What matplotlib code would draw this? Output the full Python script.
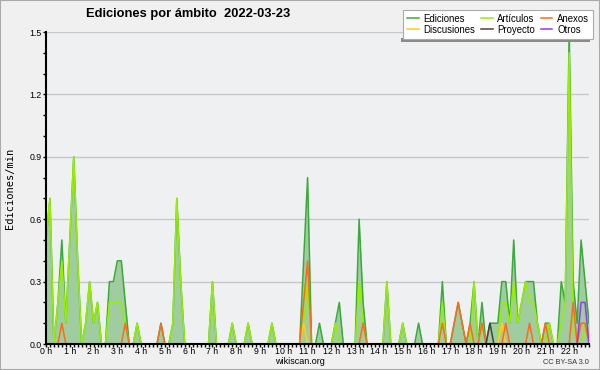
import numpy as np
import matplotlib.pyplot as plt
import matplotlib.lines as mlines
import matplotlib.patches as mpatches

plt.rcParams["font.family"] = ["Liberation Sans", "DejaVu Sans"]

# edits per minute in 10-minute buckets, 00:00 .. 22:50 (two hours per row)
ediciones = [
    0.5, 0.7, 0.0, 0.2, 0.5, 0.1,  0.5, 0.9, 0.4, 0.0, 0.1, 0.3,
    0.1, 0.2, 0.0, 0.0, 0.3, 0.3,  0.4, 0.4, 0.2, 0.0, 0.0, 0.1,
    0.0, 0.0, 0.0, 0.0, 0.0, 0.1,  0.0, 0.0, 0.1, 0.7, 0.3, 0.0,
    0.0, 0.0, 0.0, 0.0, 0.0, 0.0,  0.3, 0.0, 0.0, 0.0, 0.0, 0.1,
    0.0, 0.0, 0.0, 0.1, 0.0, 0.0,  0.0, 0.0, 0.0, 0.1, 0.0, 0.0,
    0.0, 0.0, 0.0, 0.0, 0.0, 0.4,  0.8, 0.0, 0.0, 0.1, 0.0, 0.0,
    0.0, 0.1, 0.2, 0.0, 0.0, 0.0,  0.0, 0.6, 0.2, 0.0, 0.0, 0.0,
    0.0, 0.0, 0.3, 0.0, 0.0, 0.0,  0.1, 0.0, 0.0, 0.0, 0.1, 0.0,
    0.0, 0.0, 0.0, 0.0, 0.3, 0.0,  0.0, 0.1, 0.2, 0.1, 0.0, 0.1,
    0.3, 0.0, 0.2, 0.0, 0.1, 0.1,  0.1, 0.3, 0.3, 0.1, 0.5, 0.1,
    0.2, 0.3, 0.3, 0.3, 0.1, 0.0,  0.1, 0.1, 0.0, 0.0, 0.3, 0.2,
    1.5, 0.3, 0.1, 0.5, 0.3, 0.1,
]
articulos = [
    0.5, 0.7, 0.0, 0.2, 0.4, 0.1,  0.5, 0.9, 0.4, 0.0, 0.1, 0.3,
    0.1, 0.2, 0.0, 0.0, 0.2, 0.2,  0.2, 0.2, 0.1, 0.0, 0.0, 0.1,
    0.0, 0.0, 0.0, 0.0, 0.0, 0.0,  0.0, 0.0, 0.1, 0.7, 0.3, 0.0,
    0.0, 0.0, 0.0, 0.0, 0.0, 0.0,  0.3, 0.0, 0.0, 0.0, 0.0, 0.1,
    0.0, 0.0, 0.0, 0.1, 0.0, 0.0,  0.0, 0.0, 0.0, 0.1, 0.0, 0.0,
    0.0, 0.0, 0.0, 0.0, 0.0, 0.1,  0.3, 0.0, 0.0, 0.0, 0.0, 0.0,
    0.0, 0.1, 0.0, 0.0, 0.0, 0.0,  0.0, 0.3, 0.1, 0.0, 0.0, 0.0,
    0.0, 0.0, 0.3, 0.0, 0.0, 0.0,  0.1, 0.0, 0.0, 0.0, 0.0, 0.0,
    0.0, 0.0, 0.0, 0.0, 0.2, 0.0,  0.0, 0.0, 0.0, 0.0, 0.0, 0.0,
    0.3, 0.0, 0.1, 0.0, 0.0, 0.0,  0.0, 0.2, 0.2, 0.1, 0.3, 0.1,
    0.2, 0.3, 0.2, 0.2, 0.1, 0.0,  0.0, 0.1, 0.0, 0.0, 0.1, 0.2,
    1.4, 0.1, 0.0, 0.0, 0.1, 0.0,
]
# sparse namespaces: bucket start time -> edits per minute
anexos = {
    "00:40": 0.1, "03:20": 0.1, "04:50": 0.1, "10:50": 0.2, "11:00": 0.4,
    "13:20": 0.1, "16:40": 0.1, "17:10": 0.1, "17:20": 0.2, "17:30": 0.1,
    "17:50": 0.1, "18:20": 0.1, "19:20": 0.1, "20:20": 0.1, "21:00": 0.1,
    "22:10": 0.2, "22:30": 0.1, "22:40": 0.1,
}
discusiones = {"10:50": 0.1, "19:10": 0.1}
proyecto = {"18:40": 0.1}
otros = {"22:30": 0.2, "22:40": 0.2}

hour_labels = [f"{h} h" for h in range(23)]

n = len(ediciones)
x = np.arange(n)


def expand(d):
    arr = np.zeros(n)
    for t, v in d.items():
        h, m = t.split(":")
        arr[int(h) * 6 + int(m) // 10] = v
    return arr


fig = plt.figure(figsize=(6, 3.7), dpi=100, facecolor="#f0f0f0")
ax = fig.add_axes([46 / 600, 1 - 344 / 370, (589 - 46) / 600, (344 - 32) / 370])
ax.set_facecolor("#eef0f2")

ax.fill_between(x, ediciones, color="#9fcd9f", lw=0, zorder=2)
ax.plot(x, ediciones, color="#3aaa3a", lw=1.1, zorder=3)
ax.plot(x, articulos, color="#99ee00", lw=1.1, zorder=4)
ax.plot(x, expand(discusiones), color="#ffcc22", lw=1.1, zorder=5)
ax.plot(x, expand(anexos), color="#ff6a1a", lw=1.1, zorder=5)
ax.plot(x, expand(proyecto), color="#444444", lw=1.1, zorder=6)
ax.plot(x, expand(otros), color="#9933ff", lw=1.1, zorder=7)

ax.set_xlim(0, n - 1)
ax.set_ylim(0, 1.5)
ax.set_xticks(np.arange(0, n, 6))
ax.set_xticklabels(hour_labels, fontsize=6.3)
ax.set_xticks(x, minor=True)
ax.set_yticks(np.arange(0, 1.51, 0.3))
ax.set_yticklabels([f"{v:.1f}" for v in np.arange(0, 1.51, 0.3)], fontsize=6.3)
ax.set_yticks(np.arange(0, 1.51, 0.1), minor=True)
ax.tick_params(axis="both", which="both", direction="out", length=2.2, width=1,
               color="black")
ax.tick_params(axis="x", which="both", pad=0)
ax.tick_params(axis="y", which="both", pad=1)
ax.grid(axis="y", which="major", color="#c8c8c8", lw=1, zorder=1)
ax.set_axisbelow(True)
for s in ["top", "right"]:
    ax.spines[s].set_visible(False)
for s in ["left", "bottom"]:
    ax.spines[s].set_linewidth(1.5)
    ax.spines[s].set_zorder(10)

ax.set_ylabel("Ediciones/min", fontsize=7.5, family="DejaVu Sans Mono")
ax.yaxis.set_label_coords(-(46 - 15) / 543, 0.5)

fig.text(188 / 600, 1 - 14 / 370, "Ediciones por ámbito  2022-03-23",
         ha="center", va="center", fontsize=9.3, fontweight="bold")
fig.text(300 / 600, 1 - 361 / 370, "wikiscan.org", ha="center", va="center", fontsize=6.5)
fig.text(589 / 600, 1 - 362 / 370, "CC BY-SA 3.0", ha="right", va="center",
         fontsize=5.3, color="#333333")

handles = [
    mlines.Line2D([], [], color="#3aaa3a", lw=1.1, label="Ediciones"),
    mlines.Line2D([], [], color="#ffcc22", lw=1.1, label="Discusiones"),
    mlines.Line2D([], [], color="#99ee00", lw=1.1, label="Artículos"),
    mlines.Line2D([], [], color="#444444", lw=1.1, label="Proyecto"),
    mlines.Line2D([], [], color="#ff6a1a", lw=1.1, label="Anexos"),
    mlines.Line2D([], [], color="#9933ff", lw=1.1, label="Otros"),
]
leg = fig.legend(handles=handles, loc="upper right", bbox_to_anchor=(593 / 600, 1 - 10 / 370),
                 borderaxespad=0, ncol=3, fontsize=6.9, handlelength=1.2,
                 handletextpad=0.5, columnspacing=0.6, labelspacing=0.1, borderpad=0.4,
                 fancybox=False, framealpha=1, edgecolor="#aaaaaa")
leg.get_frame().set_linewidth(0.8)

# thin shadow bar under the legend box
fig.canvas.draw()
bb = leg.get_window_extent()
fig.patches.append(mpatches.Rectangle((bb.x0 - 2, bb.y0 - 3), bb.width - 1, 4,
                                      transform=None, facecolor="#8a8a8a",
                                      edgecolor="none", zorder=0))

fig.patches.append(mpatches.Rectangle((0, 0), 1, 1, transform=fig.transFigure,
                                      fill=False, edgecolor="#aaaaaa", lw=1.5))

fig.savefig("out.png", dpi=100, facecolor=fig.get_facecolor())
